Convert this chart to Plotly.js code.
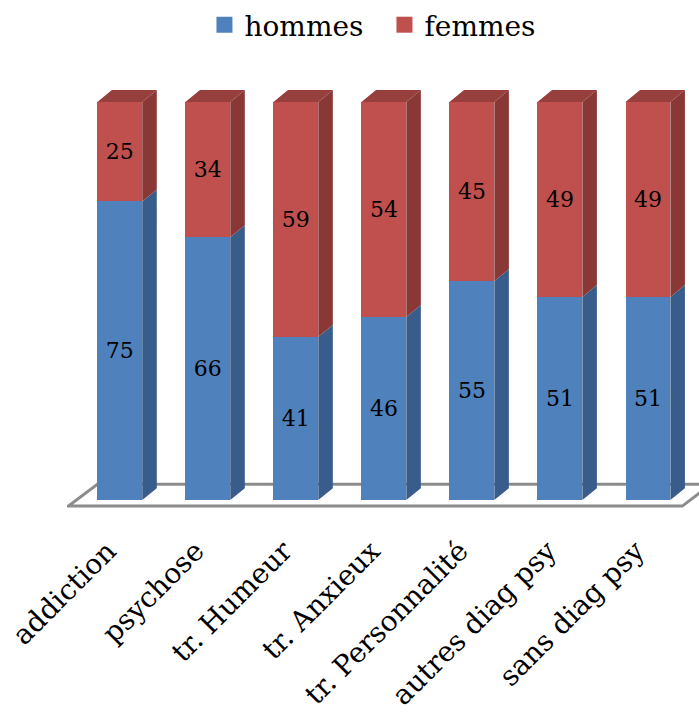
<!DOCTYPE html>
<html>
<head>
<meta charset="utf-8">
<script src="https://cdn.plot.ly/plotly-3.0.1.min.js"></script>
<style>html,body{margin:0;padding:0;background:#fff;}#chart{width:699px;height:714px;}</style>
</head>
<body>
<div id="chart"></div>
<script>
const categories = ["addiction", "psychose", "tr. Humeur", "tr. Anxieux", "tr. Personnalité", "autres diag psy", "sans diag psy"];
const hommes = [75, 66, 41, 46, 55, 51, 51];
const femmes = [25, 34, 59, 54, 45, 49, 49];
const seriesNames = ["hommes", "femmes"];
const seriesColors = ["#4F81BD", "#C0504D"];

const FONT = "DejaVu Serif";
const xs = categories.map((_, i) => i);
const W = 0.51, hw = W / 2;
const DX = 0.165, DY = 3.0;

// Floor (decoration), drawn below traces
const n = categories.length;
const fx0 = -0.585, fx1 = n - 1 + 0.39, fdx = 0.33, fy0 = -1.5, fy1 = 4.0;
const floorPath = `M ${fx0},${fy0} L ${fx1},${fy0} L ${fx1 + fdx},${fy1} L ${fx0 + fdx},${fy1} Z`;

function sidePolys(bottoms, tops) {
  const px = [], py = [];
  xs.forEach((c, i) => {
    const r = c + hw;
    px.push(r, r + DX, r + DX, r, r, null);
    py.push(bottoms[i], bottoms[i] + DY, tops[i] + DY, tops[i], bottoms[i], null);
  });
  return {x: px, y: py};
}
function topPolys(tops) {
  const px = [], py = [];
  xs.forEach((c, i) => {
    const l = c - hw, r = c + hw;
    px.push(l, l + DX, r + DX, r, l, null);
    py.push(tops[i], tops[i] + DY, tops[i] + DY, tops[i], tops[i], null);
  });
  return {x: px, y: py};
}
const zeros = hommes.map(() => 0);
const totals = hommes.map((h, i) => h + femmes[i]);
const blueSide = sidePolys(zeros, hommes);
const redSide = sidePolys(hommes, totals);
const redTop = topPolys(totals);

const polyTrace = (p, col) => ({
  x: p.x, y: p.y, mode: "lines", fill: "toself", fillcolor: col,
  line: {width: 0, color: col}, hoverinfo: "skip", showlegend: false
});

const textStyle = {family: FONT, size: 22, color: "#000"};
const data = [
  {type: "bar", name: seriesNames[0], x: xs, y: hommes, width: W,
   marker: {color: seriesColors[0], line: {width: 0}}, showlegend: false,
   text: hommes.map(String), textposition: "inside", insidetextanchor: "middle",
   textangle: 0, textfont: textStyle, hoverinfo: "skip"},
  {type: "bar", name: seriesNames[1], x: xs, y: femmes, width: W,
   marker: {color: seriesColors[1], line: {width: 0}}, showlegend: false,
   text: femmes.map(String), textposition: "inside", insidetextanchor: "middle",
   textangle: 0, textfont: textStyle, hoverinfo: "skip"},
  polyTrace(blueSide, "#385D8A"),
  polyTrace(redSide, "#8A3836"),
  polyTrace(redTop, "#963F3C"),
  // legend entries
  {type: "scatter", mode: "markers", name: seriesNames[0], x: [null], y: [null],
   marker: {symbol: "square", size: 16, color: seriesColors[0]}, hoverinfo: "skip"},
  {type: "scatter", mode: "markers", name: seriesNames[1], x: [null], y: [null],
   marker: {symbol: "square", size: 16, color: seriesColors[1]}, hoverinfo: "skip"}
];

const layout = {
  width: 699, height: 714,
  margin: {l: 67, r: 0, t: 82, b: 190},
  paper_bgcolor: "#fff", plot_bgcolor: "#fff",
  barmode: "stack",
  font: {family: FONT, color: "#000"},
  showlegend: true,
  legend: {orientation: "h", x: 0.55, xanchor: "center", xref: "container",
           y: 1.0, yanchor: "top", yref: "container",
           font: {family: FONT, size: 28, color: "#000"},
           traceorder: "normal", itemwidth: 30, itemsizing: "trace", entrywidth: 135},
  shapes: [{type: "path", xref: "x", yref: "y", path: floorPath, layer: "below",
            fillcolor: "#ffffff", line: {color: "#8c8c8c", width: 3}}],
  xaxis: {range: [-0.6, n - 1 + 0.58], tickmode: "array", tickvals: xs, ticktext: categories,
          tickangle: -45, tickfont: {family: FONT, size: 28, color: "#000"},
          ticklabelshift: -12, ticklabelstandoff: 4,
          showgrid: false, zeroline: false, showline: false, ticks: ""},
  yaxis: {range: [-6, 105], visible: false, showgrid: false, zeroline: false}
};

Plotly.newPlot("chart", data, layout, {staticPlot: true});
</script>
</body>
</html>
